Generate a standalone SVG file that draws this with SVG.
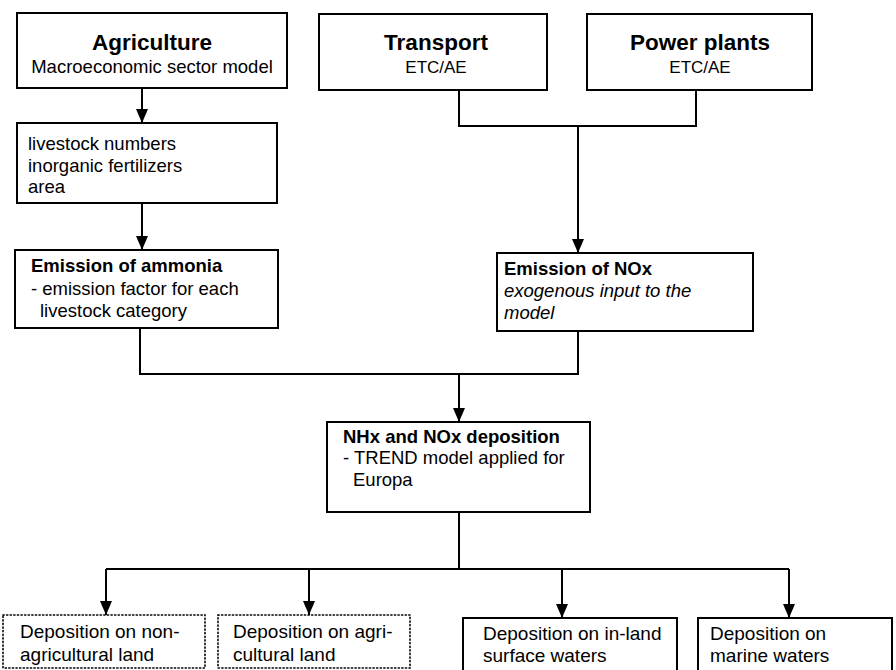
<svg xmlns="http://www.w3.org/2000/svg" width="896" height="670" viewBox="0 0 896 670">
  <defs>
    <!-- filled triangular arrowhead, drawn along +x so orient="auto" follows the line -->
    <marker id="arrow" viewBox="0 0 14 12" refX="14" refY="6" markerWidth="14" markerHeight="12" markerUnits="userSpaceOnUse" orient="auto">
      <path d="M0,0 L14,6 L0,12 Z" fill="#000"/>
    </marker>
  </defs>
  <style>
    text { font-family: "Liberation Sans", Arial, sans-serif; fill: #000; }
    .box { fill: #fff; stroke: #000; stroke-width: 2; }
    .dot { fill: #fff; stroke: #000; stroke-width: 1.6; stroke-dasharray: 1.2 2.4; stroke-linecap: round; }
    .title { font-size: 22.5px; font-weight: bold; text-anchor: middle; }
    .sub { font-size: 18.5px; text-anchor: middle; }
    .etc { font-size: 17px; text-anchor: middle; }
    .head { font-size: 18.5px; font-weight: bold; }
    .body { font-size: 18.5px; }
    .low { font-size: 19px; }
    .it { font-size: 18.5px; font-style: italic; }
    .wire { fill: none; stroke: #000; stroke-width: 2; }
  </style>
  <rect width="896" height="670" fill="#fff"/>

  <!-- connectors -->
  <g id="connectors">
    <line class="wire" x1="142" y1="88" x2="142" y2="123" marker-end="url(#arrow)"/>
    <line class="wire" x1="142" y1="203" x2="142" y2="250" marker-end="url(#arrow)"/>
    <polyline class="wire" points="459,90 459,126 696,126 696,90"/>
    <line class="wire" x1="578" y1="126" x2="578" y2="253" marker-end="url(#arrow)"/>
    <polyline class="wire" points="140,328 140,374 578,374 578,331"/>
    <line class="wire" x1="459" y1="374" x2="459" y2="422" marker-end="url(#arrow)"/>
    <line class="wire" x1="459" y1="512" x2="459" y2="569"/>
    <line class="wire" x1="106" y1="569" x2="789" y2="569"/>
    <line class="wire" x1="106" y1="569" x2="106" y2="615" marker-end="url(#arrow)"/>
    <line class="wire" x1="309" y1="569" x2="309" y2="615" marker-end="url(#arrow)"/>
    <line class="wire" x1="562" y1="569" x2="562" y2="618" marker-end="url(#arrow)"/>
    <line class="wire" x1="789" y1="569" x2="789" y2="618" marker-end="url(#arrow)"/>
  </g>

  <g id="agriculture">
    <rect class="box" x="17" y="13" width="270" height="75"/>
    <text class="title" x="152" y="50">Agriculture</text>
    <text class="sub" x="152" y="73">Macroeconomic sector model</text>
  </g>

  <g id="transport">
    <rect class="box" x="319" y="14" width="228" height="76"/>
    <text class="title" x="436" y="50">Transport</text>
    <text class="etc" x="436" y="73">ETC/AE</text>
  </g>

  <g id="power-plants">
    <rect class="box" x="587" y="14" width="225" height="76"/>
    <text class="title" x="700" y="50">Power plants</text>
    <text class="etc" x="700" y="73">ETC/AE</text>
  </g>

  <g id="inputs">
    <rect class="box" x="17" y="123" width="260" height="80"/>
    <text class="body" x="28" y="150">livestock numbers</text>
    <text class="body" x="28" y="172">inorganic fertilizers</text>
    <text class="body" x="28" y="193">area</text>
  </g>

  <g id="ammonia">
    <rect class="box" x="15" y="250" width="263" height="78"/>
    <text class="head" x="31" y="272">Emission of ammonia</text>
    <text class="body" x="31" y="295">- emission factor for each</text>
    <text class="body" x="40" y="317">livestock category</text>
  </g>

  <g id="nox">
    <rect class="box" x="497" y="253" width="256" height="78"/>
    <text class="head" x="504" y="275">Emission of NOx</text>
    <text class="it" x="504" y="297">exogenous input to the</text>
    <text class="it" x="504" y="319">model</text>
  </g>

  <g id="deposition">
    <rect class="box" x="327" y="422" width="263" height="90"/>
    <text class="head" x="343" y="443">NHx and NOx deposition</text>
    <text class="body" x="343" y="464">- TREND model applied for</text>
    <text class="body" x="353" y="486">Europa</text>
  </g>

  <g id="non-agricultural">
    <rect class="dot" x="3" y="615" width="202" height="53"/>
    <text class="low" x="20" y="638">Deposition on non-</text>
    <text class="low" x="20" y="661">agricultural land</text>
  </g>

  <g id="agricultural">
    <rect class="dot" x="218" y="615" width="192" height="53"/>
    <text class="low" x="233" y="638">Deposition on agri-</text>
    <text class="low" x="233" y="661">cultural land</text>
  </g>

  <g id="inland-waters">
    <rect class="box" x="463" y="618" width="214" height="60"/>
    <text class="low" x="483" y="640">Deposition on in-land</text>
    <text class="low" x="483" y="662">surface waters</text>
  </g>

  <g id="marine-waters">
    <rect class="box" x="698" y="618" width="194" height="60"/>
    <text class="low" x="710" y="640">Deposition on</text>
    <text class="low" x="710" y="662">marine waters</text>
  </g>
</svg>
